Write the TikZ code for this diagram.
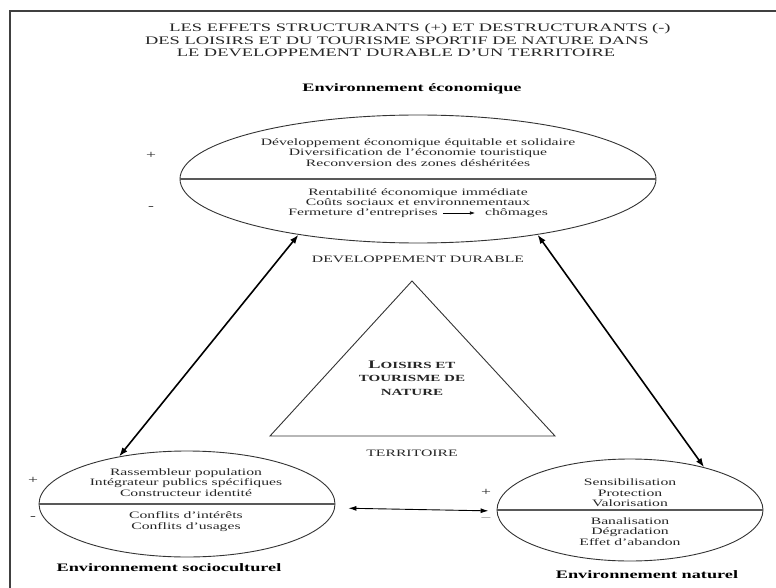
\documentclass[tikz,border=0pt]{standalone}
\usepackage{fontspec}
\setmainfont{Liberation Serif}[FakeStretch=1.6]
\usetikzlibrary{shapes.geometric,arrows.meta}

\tikzset{
  env/.style={ellipse,draw=black!80,line width=0.9pt,inner sep=0pt},
  divider/.style={draw=black!65,line width=1.3pt},
  txt/.style={inner sep=0pt,align=center,text=black!85,font=\fontsize{9.8}{10.5}\selectfont},
  sign/.style={inner sep=0pt,text=black!85,font=\fontsize{11}{12}\selectfont},
  lbl/.style={inner sep=0pt,font=\fontsize{11.4}{12}\selectfont\bfseries},
  biarrow/.style={{Latex[length=9pt,width=6.5pt]}-{Latex[length=9pt,width=6.5pt]},line width=1.6pt},
  link/.style={{Latex[length=8pt,width=5pt]}-{Latex[length=8pt,width=5pt]},line width=0.9pt},
}

\begin{document}
\begin{tikzpicture}[x=1pt,y=-1pt]
\useasboundingbox (0,0) rectangle (776,588);
% cadre
\draw[line width=1.4pt,black!75] (776,11) -- (10,11) -- (10,588);

% titre
\node[txt,font=\fontsize{11.5}{12}\selectfont] (title1) at (420,29) {LES EFFETS STRUCTURANTS (+) ET DESTRUCTURANTS (-)};
\node[txt,font=\fontsize{11.5}{12}\selectfont] (title2) at (397,41) {DES LOISIRS ET DU TOURISME SPORTIF DE NATURE DANS};
\node[txt,font=\fontsize{11.5}{12}\selectfont] (title3) at (396,53) {LE DEVELOPPEMENT DURABLE D'UN TERRITOIRE};

% environnement economique
\node[lbl] (econlbl) at (412,89) {Environnement économique};
\node[env,minimum width=476pt,minimum height=128pt] (econ) at (418,179) {};
\draw[divider] (econ.west) -- (econ.east);
\node[txt] (econplus) at (418,152.5) {Développement économique équitable et solidaire\\Diversification de l'économie touristique\\Reconversion des zones déshéritées};
\node[txt] (econminus) at (418,197) {Rentabilité économique immédiate\\Coûts sociaux et environnementaux};
\node[txt] (ferm) at (363,213) {Fermeture d'entreprises};
\node[txt] (chom) at (516.5,213) {chômages};
\draw[-{Latex[length=5pt,width=3.5pt]},line width=0.6pt,shorten <=5pt,shorten >=10pt] (ferm.east) -- (chom.west);
\node[sign] (ep) at (151,155) {+};
\node[sign] (em) at (151,208) {-};
\node[txt] (dd) at (418,259) {DEVELOPPEMENT DURABLE};

% triangle
\draw[line width=0.9pt,black!80] (412,281) -- (555,436) -- (270,436) -- cycle;
\node[txt,font=\fontsize{9.4}{13.5}\selectfont\bfseries] (loisirs) at (412,378) {{\fontsize{11.5}{13.5}\selectfont L}OISIRS ET\\TOURISME DE\\NATURE};
\node[txt] (terr) at (412,453) {TERRITOIRE};

% environnement socioculturel
\node[env,minimum width=296pt,minimum height=106pt] (socio) at (187,504) {};
\draw[divider] (socio.west) -- (socio.east);
\node[txt] (socioplus) at (186,482.5) {Rassembleur population\\Intégrateur publics spécifiques\\Constructeur identité};
\node[txt] (sociominus) at (186,521.5) {Conflits d'intérêts\\Conflits d'usages};
\node[sign] (sp) at (33,480) {+};
\node[sign] (sm) at (33,518) {-};
\node[lbl] (sociolbl) at (169,568) {Environnement socioculturel};

% environnement naturel
\node[env,minimum width=266pt,minimum height=102pt] (nat) at (630,510) {};
\draw[divider] (nat.west) -- (nat.east);
\node[txt] (natplus) at (630,493) {Sensibilisation\\Protection\\Valorisation};
\node[txt] (natminus) at (630,531.5) {Banalisation\\Dégradation\\Effet d'abandon};
\node[sign] (np) at (486,492) {+};
\node[sign,text=black!50] (nm) at (486,519) {--};
\node[lbl] (natlbl) at (647,575) {Environnement naturel};

% liaisons
\draw[biarrow] (econ.205.8) -- (socio.145);
\draw[biarrow] (econ.335.7) -- (nat.30.3);
\draw[link,shorten <=13pt,shorten >=8pt] ([yshift=-4pt]socio.east) -- ([yshift=-1pt]nat.west);
\end{tikzpicture}
\end{document}
